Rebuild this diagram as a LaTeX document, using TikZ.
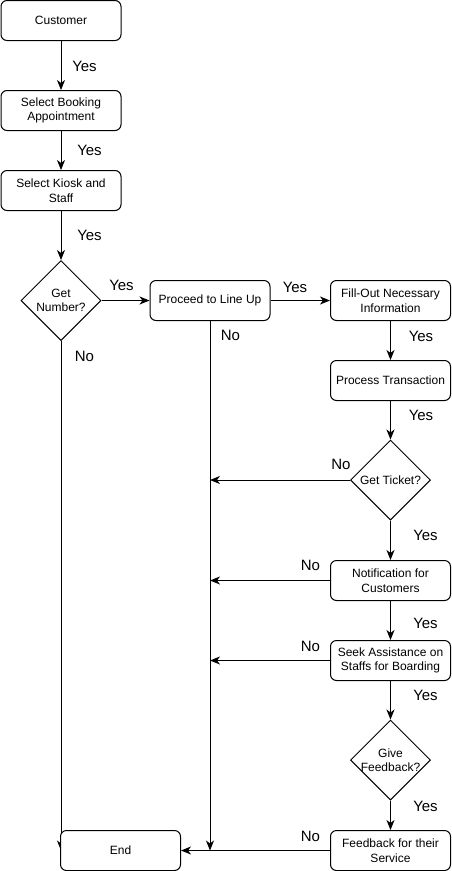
\documentclass[tikz,border=0pt]{standalone}
\usepackage{fontspec}
\setmainfont{Liberation Sans}
\usetikzlibrary{shapes.geometric,arrows.meta,backgrounds}
\begin{document}
\begin{tikzpicture}[x=1pt,y=-1pt,
  every node/.style={text=black},
  procbox/.style={draw, line width=1pt, fill=white, rounded corners=6pt,
    minimum width=120pt, minimum height=40pt, inner sep=0pt,
    align=center, font=\fontsize{12}{14.5}\selectfont},
  decision/.style={draw, line width=1pt, fill=white, diamond, aspect=1,
    minimum width=80pt, minimum height=80pt, inner sep=0pt},
  dtext/.style={align=center, font=\fontsize{12}{14.5}\selectfont, inner sep=0pt},
  flow/.style={draw, line width=1pt, -{Stealth[length=10pt,width=8pt,inset=3pt]}},
  lbl/.style={font=\fontsize{15}{17}\selectfont, inner sep=0pt}]
\useasboundingbox (0,0) rectangle (451,871);

% main column
\node[procbox] (cust) at (61,20.5) {Customer};
\node[procbox] (book) at (61,110.5) {Select Booking\\Appointment};
\node[procbox] (kiosk) at (61,190.5) {Select Kiosk and\\Staff};
\node[decision, label={[dtext]center:Get\\Number?}] (gn) at (61,300.5) {};
\node[procbox] (line) at (210,300.5) {Proceed to Line Up};

% right column
\node[procbox] (fill) at (390.5,300.5) {Fill-Out Necessary\\Information};
\node[procbox] (proc) at (390.5,380.5) {Process Transaction};
\node[decision, label={[dtext]center:Get Ticket?}] (gt) at (390.5,480) {};
\node[procbox] (notif) at (390.5,580.5) {Notification for\\Customers};
\node[procbox] (seek) at (390.5,660.5) {Seek Assistance on\\Staffs for Boarding};
\node[decision, label={[dtext]center:Give\\Feedback?}] (gf) at (390.5,760) {};
\node[procbox] (fb) at (390.5,850.5) {Feedback for their\\Service};
\node[procbox] (end) at (120.5,850.5) {End};

% connectors (kept beneath the boxes)
\begin{pgfonlayer}{background}
\draw[flow] (cust) -- (book);
\draw[flow] (book) -- (kiosk);
\draw[flow] (kiosk) -- (gn.north);
\draw[flow] (gn.east) -- (line.west);
\draw[flow] (line.east) -- (fill.west);
\draw[flow] (fill) -- (proc);
\draw[flow] (proc) -- (gt.north);
\draw[flow] (gt.west) -- (gt.west -| line.south);
\draw[flow] (gt.south) -- (notif.north);
\draw[flow] (notif.west) -- (notif.west -| line.south);
\draw[flow] (notif) -- (seek);
\draw[flow] (seek.west) -- (seek.west -| line.south);
\draw[flow] (seek) -- (gf.north);
\draw[flow] (gf.south) -- (fb.north);
\draw[flow] (fb.west) -- (end.east);
\draw[flow] (line.south) -- (line.south |- end.east);
\draw[flow] (gn.south) -- (gn.south |- end.east);
\end{pgfonlayer}

% branch labels
\node[lbl] (y1) at (84.5,66) {Yes};
\node[lbl] (y2) at (89.5,150) {Yes};
\node[lbl] (y3) at (89.5,235) {Yes};
\node[lbl] (y4) at (121.5,285) {Yes};
\node[lbl] (n1) at (84.5,356) {No};
\node[lbl] (n2) at (230.5,335.5) {No};
\node[lbl] (y5) at (295,287) {Yes};
\node[lbl] (y6) at (421,336) {Yes};
\node[lbl] (y7) at (421,415) {Yes};
\node[lbl] (n3) at (341,464) {No};
\node[lbl] (y8) at (425.5,535) {Yes};
\node[lbl] (n4) at (310.5,565) {No};
\node[lbl] (y9) at (425.5,623) {Yes};
\node[lbl] (n5) at (310.5,646) {No};
\node[lbl] (y10) at (425.5,695) {Yes};
\node[lbl] (y11) at (425.5,806) {Yes};
\node[lbl] (n6) at (310.5,836) {No};
\end{tikzpicture}
\end{document}
